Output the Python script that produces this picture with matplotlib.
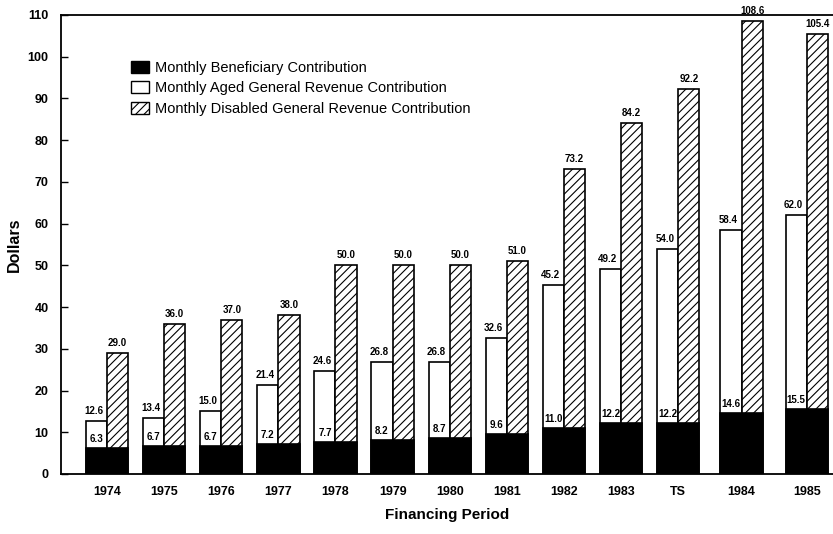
import matplotlib
matplotlib.use("Agg")
import matplotlib.pyplot as plt
from matplotlib.patches import Patch
import numpy as np

periods = ["1974", "1975", "1976", "1977", "1978", "1979", "1980",
           "1981", "1982", "1983", "TS", "1984", "1985"]
beneficiary = [6.3, 6.7, 6.7, 7.2, 7.7, 8.2, 8.7, 9.6, 11.0, 12.2, 12.2, 14.6, 15.5]
aged_total = [12.6, 13.4, 15.0, 21.4, 24.6, 26.8, 26.8, 32.6, 45.2, 49.2, 54.0, 58.4, 62.0]
disabled_total = [29.0, 36.0, 37.0, 38.0, 50.0, 50.0, 50.0, 51.0, 73.2, 84.2, 92.2, 108.6, 105.4]

plt.rcParams["font.family"] = ["Liberation Sans", "DejaVu Sans"]
plt.rcParams["hatch.linewidth"] = 0.8

# slightly wider gap after the transition period
x = np.arange(len(periods), dtype=float)
x[11:] += np.array([0.11, 0.25])
w = 0.37

fig = plt.figure(figsize=(8.33, 5.34), dpi=100)
ax = fig.add_axes([0.0732, 0.1124, 0.9268, 0.8596])

ax.bar(x - w / 2, aged_total, width=w, color="white", edgecolor="black", linewidth=1.2)
ax.bar(x + w / 2, disabled_total, width=w, color="white", edgecolor="black",
       linewidth=1.2, hatch="////")
ax.bar(x, beneficiary, width=2 * w, color="black", edgecolor="black", linewidth=1.2)

for xi, b, a, d in zip(x, beneficiary, aged_total, disabled_total):
    ax.text(xi - w / 2 - 0.05, a + 1.2, f"{a:.1f}", ha="center", va="bottom",
            fontsize=7, fontweight="bold")
    ax.text(xi + w / 2, d + 1.2, f"{d:.1f}", ha="center", va="bottom",
            fontsize=7, fontweight="bold")
    ax.text(xi - w / 2, b + 1.0, f"{b:.1f}", ha="center", va="bottom",
            fontsize=7, fontweight="bold")

ax.set_xlim(-0.806, 12.71)
ax.set_ylim(0, 110)
ax.set_yticks(np.arange(0, 111, 10))
ax.set_xticks(x)
ax.set_xticklabels(periods)
ax.tick_params(axis="x", length=0, pad=9, labelsize=9)
ax.tick_params(axis="y", direction="in", length=5, width=1, pad=9, labelsize=9)
for lab in ax.get_xticklabels() + ax.get_yticklabels():
    lab.set_fontweight("bold")

ax.spines["right"].set_visible(False)
for s in ("left", "top", "bottom"):
    ax.spines[s].set_linewidth(1.3)

ax.set_ylabel("Dollars", fontsize=11.5, fontweight="bold", labelpad=4)
ax.set_xlabel("Financing Period", fontsize=11, fontweight="bold", labelpad=7)

handles = [
    Patch(facecolor="black", edgecolor="black", label="Monthly Beneficiary Contribution"),
    Patch(facecolor="white", edgecolor="black", label="Monthly Aged General Revenue Contribution"),
    Patch(facecolor="white", edgecolor="black", hatch="////",
          label="Monthly Disabled General Revenue Contribution"),
]
ax.legend(handles=handles, loc="upper left", bbox_to_anchor=(0.083, 0.912), frameon=False,
          fontsize=10.5, handlelength=1.25, handleheight=0.9, labelspacing=0.42,
          handletextpad=0.4, borderaxespad=0)

fig.savefig("out.png", dpi=100)
